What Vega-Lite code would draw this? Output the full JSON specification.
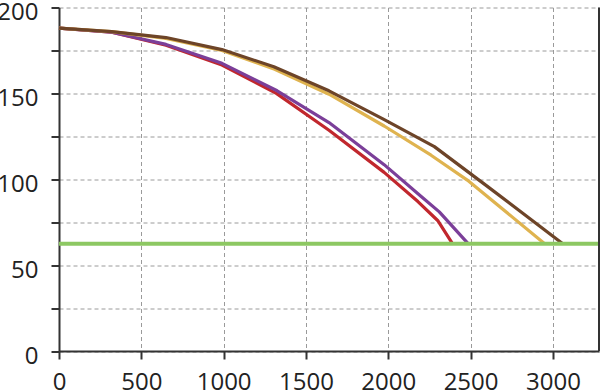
{
  "$schema": "https://vega.github.io/schema/vega-lite/v6.json",
  "width": 540,
  "height": 343.5,
  "autosize": {"type": "none"},
  "padding": {"left": 59, "top": 7.5, "right": 1, "bottom": 40},
  "background": "white",
  "config": {
    "view": {"stroke": null},
    "axis": {
      "domainColor": "#333333",
      "domainWidth": 2,
      "tickColor": "#333333",
      "tickWidth": 2,
      "tickSize": 8,
      "gridColor": "#9a9a9a",
      "gridDash": [4, 3],
      "gridWidth": 1,
      "labelFont": "Open Sans",
      "labelFontSize": 24,
      "labelColor": "#222222",
      "labelFlush": false,
      "labelOverlap": false,
      "title": null
    }
  },
  "datasets": {
    "curves": [
      {"s": "red", "q": 0, "p": 188},
      {"s": "red", "q": 320, "p": 185.6},
      {"s": "red", "q": 650, "p": 178},
      {"s": "red", "q": 990, "p": 166.5},
      {"s": "red", "q": 1320, "p": 150},
      {"s": "red", "q": 1640, "p": 128.5},
      {"s": "red", "q": 1975, "p": 104},
      {"s": "red", "q": 2180, "p": 87},
      {"s": "red", "q": 2300, "p": 76},
      {"s": "red", "q": 2390, "p": 62.5},
      {"s": "purple", "q": 0, "p": 188},
      {"s": "purple", "q": 320, "p": 185.6},
      {"s": "purple", "q": 650, "p": 178.5},
      {"s": "purple", "q": 990, "p": 167.5},
      {"s": "purple", "q": 1325, "p": 151.5},
      {"s": "purple", "q": 1640, "p": 133},
      {"s": "purple", "q": 1975, "p": 108.5},
      {"s": "purple", "q": 2200, "p": 90},
      {"s": "purple", "q": 2310, "p": 81},
      {"s": "purple", "q": 2485, "p": 62.5},
      {"s": "yellow", "q": 0, "p": 188},
      {"s": "yellow", "q": 320, "p": 186},
      {"s": "yellow", "q": 650, "p": 182},
      {"s": "yellow", "q": 990, "p": 175},
      {"s": "yellow", "q": 1310, "p": 164},
      {"s": "yellow", "q": 1640, "p": 149.5},
      {"s": "yellow", "q": 1975, "p": 131},
      {"s": "yellow", "q": 2260, "p": 114},
      {"s": "yellow", "q": 2480, "p": 99.5},
      {"s": "yellow", "q": 2950, "p": 62.5},
      {"s": "brown", "q": 0, "p": 188},
      {"s": "brown", "q": 320, "p": 186},
      {"s": "brown", "q": 650, "p": 182.5},
      {"s": "brown", "q": 990, "p": 175.5},
      {"s": "brown", "q": 1305, "p": 165.5},
      {"s": "brown", "q": 1640, "p": 151.5},
      {"s": "brown", "q": 1970, "p": 135},
      {"s": "brown", "q": 2280, "p": 119},
      {"s": "brown", "q": 2600, "p": 96},
      {"s": "brown", "q": 3060, "p": 62.5}
    ],
    "limit": [
      {"q": 0, "p": 62.5},
      {"q": 3280, "p": 62.5}
    ]
  },
  "layer": [
    {
      "data": {"name": "curves"},
      "mark": {"type": "line", "strokeWidth": 3.2, "strokeJoin": "round"},
      "encoding": {
        "x": {
          "field": "q", "type": "quantitative",
          "scale": {"domain": [0, 3280], "nice": false, "zero": true},
          "axis": {"values": [0, 500, 1000, 1500, 2000, 2500, 3000], "format": "d", "labelPadding": 11}
        },
        "y": {
          "field": "p", "type": "quantitative",
          "scale": {"domain": [0, 200], "nice": false},
          "axis": {
            "values": [0, 25, 50, 75, 100, 125, 150, 175, 200],
            "labelExpr": "datum.value % 50 == 0 ? datum.label : ''",
            "labelPadding": 13,
            "labelOffset": 5
          }
        },
        "color": {
          "field": "s", "type": "nominal",
          "scale": {
            "domain": ["red", "purple", "yellow", "brown"],
            "range": ["#c1272d", "#7b3f99", "#dfb34f", "#6d4428"]
          },
          "legend": null
        }
      }
    },
    {
      "data": {"name": "limit"},
      "mark": {"type": "line", "strokeWidth": 4, "color": "#8dc863"},
      "encoding": {
        "x": {"field": "q", "type": "quantitative"},
        "y": {"field": "p", "type": "quantitative"}
      }
    },
    {
      "data": {"values": [{}]},
      "mark": {"type": "rule", "color": "#333333", "strokeWidth": 2},
      "encoding": {
        "x": {"datum": 3280},
        "y": {"datum": 0},
        "y2": {"datum": 200}
      }
    }
  ]
}
